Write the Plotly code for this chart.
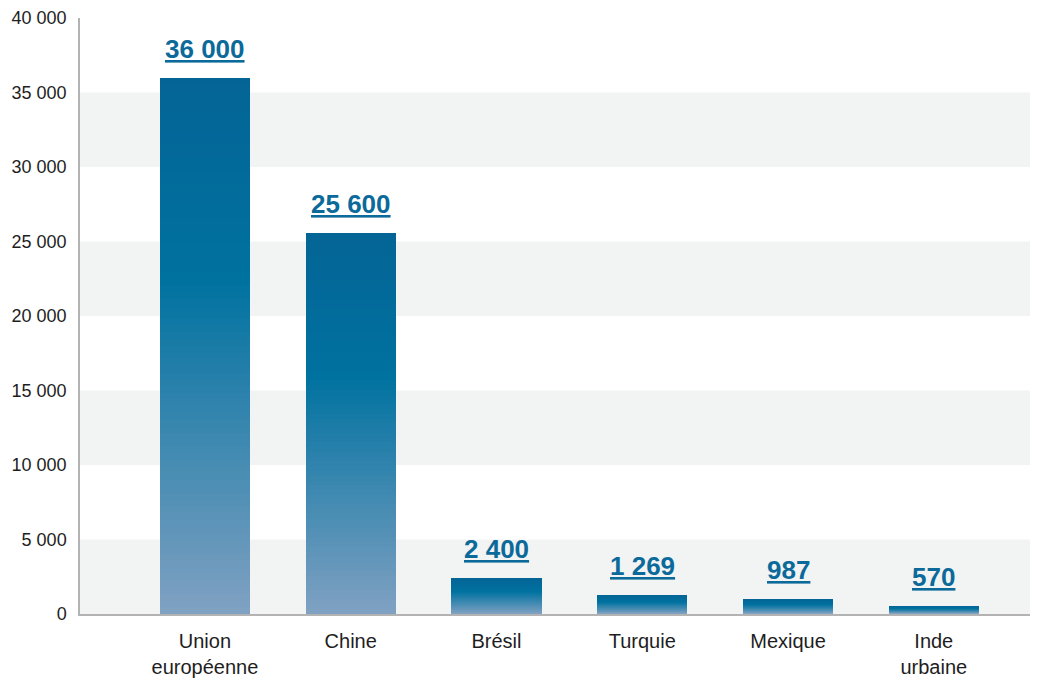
import plotly.graph_objects as go

# Data
categories = ["Union<br>européenne", "Chine", "Brésil", "Turquie", "Mexique", "Inde<br>urbaine"]
values = [36000, 25600, 2400, 1269, 987, 570]
y_ticks = [0, 5000, 10000, 15000, 20000, 25000, 30000, 35000, 40000]
y_tick_labels = ["0", "5 000", "10 000", "15 000", "20 000", "25 000", "30 000", "35 000", "40 000"]

FONT = "Liberation Sans, Arial, Helvetica, sans-serif"


def fmt(v):
    return f"{v:,}".replace(",", " ")


def lerp(c1, c2, t):
    return tuple(round(a + (b - a) * t) for a, b in zip(c1, c2))


# Vertical gradient stops (fraction from bar top -> colour)
stops = [(0.0, (4, 100, 150)), (0.38, (0, 114, 160)), (1.0, (128, 161, 194))]


def grad_color(f):
    for (f0, c0), (f1, c1) in zip(stops[:-1], stops[1:]):
        if f <= f1:
            c = lerp(c0, c1, (f - f0) / (f1 - f0))
            return "rgb(%d,%d,%d)" % c
    return "rgb(%d,%d,%d)" % stops[-1][1]


x_idx = list(range(len(categories)))
fig = go.Figure()

# Gradient bars: overlaid, progressively shorter bars painted on top
N = 80
for k in range(N):
    frac = (N - k) / N
    fig.add_trace(go.Bar(
        x=x_idx,
        y=[v * frac for v in values],
        width=0.62,
        marker=dict(color=grad_color((k + 0.5) / N), line=dict(width=0)),
        hoverinfo="skip",
        showlegend=False,
    ))

# Value labels above the bars
annotations = []
for i, v in zip(x_idx, values):
    annotations.append(dict(
        x=i, y=v, xref="x", yref="y",
        text=fmt(v), showarrow=False,
        xanchor="center", yanchor="bottom", yshift=12,
        font=dict(family=FONT, size=26, color="#0b6a9a",
                  weight="bold", lineposition="under"),
    ))

# Alternating background bands
shapes = []
for i in range(0, len(y_ticks) - 1, 2):
    shapes.append(dict(type="rect", xref="paper", yref="y", x0=0, x1=1,
                       y0=y_ticks[i], y1=y_ticks[i + 1],
                       fillcolor="#f2f3f3", line=dict(width=0), layer="below"))

fig.update_layout(
    width=1044, height=678,
    margin=dict(l=80, r=14, t=18, b=64),
    paper_bgcolor="white",
    plot_bgcolor="white",
    barmode="overlay",
    bargap=0,
    shapes=shapes,
    annotations=annotations,
    font=dict(family=FONT, color="#1e1e1e"),
    xaxis=dict(
        tickmode="array", tickvals=x_idx, ticktext=categories,
        range=[-0.857, 5.66],
        showgrid=False, zeroline=False, automargin=False,
        showline=True, linecolor="#b3b3b3", linewidth=2,
        ticks="", ticklabelstandoff=8,
        tickfont=dict(size=20, color="#1e1e1e"),
    ),
    yaxis=dict(
        range=[0, 40000], tickmode="array", tickvals=y_ticks, ticktext=y_tick_labels,
        showgrid=False, zeroline=False, automargin=False,
        showline=True, linecolor="#b3b3b3", linewidth=1.5,
        ticks="", ticklabelstandoff=8,
        tickfont=dict(size=18, color="#1e1e1e"),
    ),
)

fig.write_html("out.html")
